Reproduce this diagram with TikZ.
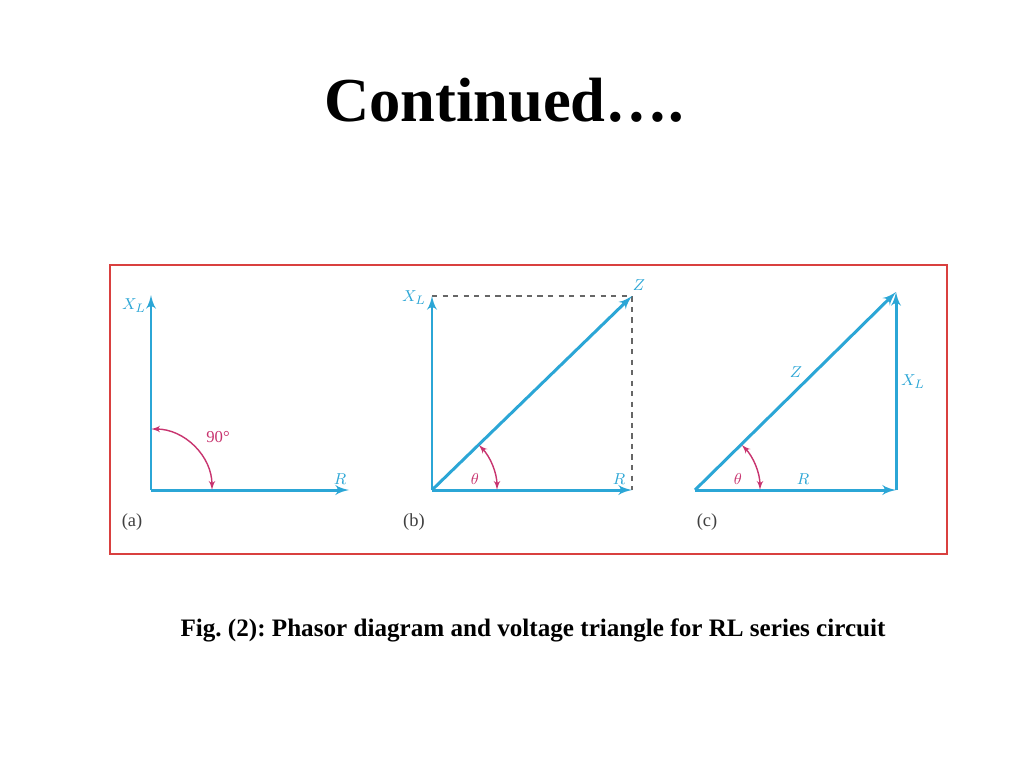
\documentclass[tikz,border=0pt]{standalone}
\usepackage{fontspec}
\setmainfont{Liberation Serif}
\usepackage{tikz}
\usetikzlibrary{arrows, calc, positioning}
\definecolor{phblue}{HTML}{2BA6D6}
\definecolor{phpink}{HTML}{C8346F}
\definecolor{frred}{HTML}{D9403F}
\tikzset{
  >=latex',
  phasor/.style={draw=phblue,->,line width=1.7pt},
  arcang/.style={draw=phpink,<->,line width=0.8pt},
  boxdash/.style={draw=black!60,dashed,line width=0.8pt},
  veclbl/.style={text=phblue,font=\fontsize{9.5}{10}\selectfont,inner sep=1pt},
  anglbl/.style={text=phpink,font=\fontsize{9.5}{10}\selectfont,inner sep=1pt},
  panlbl/.style={text=black!75,font=\fontsize{10.5}{12}\selectfont,inner sep=1pt},
}

\begin{document}
\begin{tikzpicture}[x=0.02cm,y=-0.02cm]
  \useasboundingbox[fill=white] (0,0) rectangle (1024,768);

  % title and caption
  \node[font=\fontsize{35.6}{40}\selectfont\bfseries] (title) at (504,100) {Continued….};
  \node[font=\fontsize{14.3}{16}\selectfont\bfseries\frenchspacing] (caption) at (533,630)
    {Fig. (2): Phasor diagram and voltage triangle for RL series circuit};

  % frame
  \draw[frred,line width=1.3pt] (110,265) rectangle (947,554);

  % (a)
  \coordinate (oa) at (151,490);
  \coordinate (xa) at (151,295);
  \coordinate (ra) at (349,490);
  \draw[phasor] (oa) -- (xa);
  \draw[phasor] (oa) -- (ra);
  \draw[arcang] ($(oa)+(61,0)$) arc[start angle=0,end angle=-90,radius=61];
  \node[veclbl] (xla) at (134,306) {$X_L$};
  \node[veclbl] (rla) at (340,479) {$R$};
  \node[anglbl] (anga) at (218,437) {90°};
  \node[panlbl] (pa) at (132,522) {(a)};

  % (b)
  \coordinate (ob) at (432,490);
  \coordinate (xb) at (432,296);
  \coordinate (rb) at (632,490);
  \coordinate (zb) at (632,296);
  \draw[boxdash] (xb) -- (zb) -- (rb);
  \draw[phasor] (ob) -- (xb);
  \draw[phasor] (ob) -- (rb);
  \draw[phasor] (ob) -- (zb);
  \draw[arcang] ($(ob)+(65,0)$) arc[start angle=0,end angle=-44,radius=65];
  \node[veclbl] (xlb) at (414,298) {$X_L$};
  \node[veclbl] (zlb) at (639,285) {$Z$};
  \node[veclbl] (rlb) at (619,479) {$R$};
  \node[anglbl] (angb) at (475,479) {$\theta$};
  \node[panlbl] (pb) at (414,522) {(b)};

  % (c)
  \coordinate (oc) at (695,490);
  \coordinate (rc) at (896,490);
  \coordinate (zc) at (896,292);
  \draw[phasor] (oc) -- (rc);
  \draw[phasor] (rc) -- (zc);
  \draw[phasor] (oc) -- (zc);
  \draw[arcang] ($(oc)+(65,0)$) arc[start angle=0,end angle=-44,radius=65];
  \node[veclbl] (zlc) at (796,372) {$Z$};
  \node[veclbl] (xlc) at (913,382) {$X_L$};
  \node[veclbl] (rlc) at (803,479) {$R$};
  \node[anglbl] (angc) at (738,479) {$\theta$};
  \node[panlbl] (pc) at (707,522) {(c)};
\end{tikzpicture}
\end{document}
